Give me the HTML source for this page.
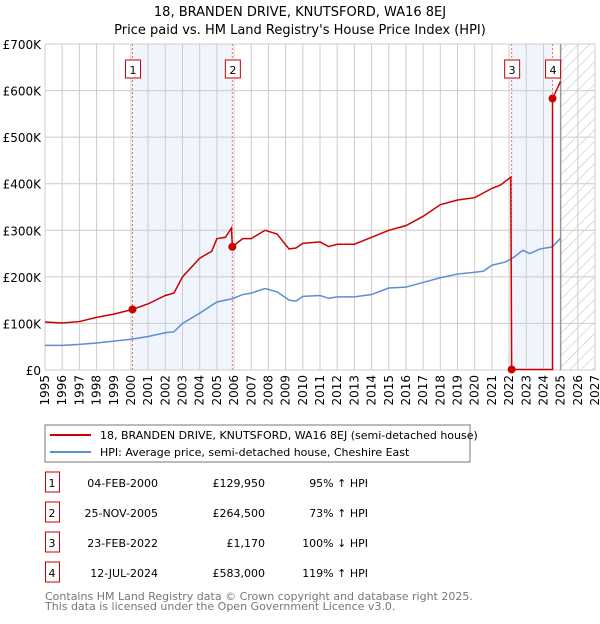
<!DOCTYPE html>
<html><head><meta charset="utf-8">
<style>
body{margin:0;background:#fff;font-family:"DejaVu Sans","Liberation Sans",sans-serif;}
svg text{font-family:"DejaVu Sans","Liberation Sans",sans-serif;}
</style></head>
<body>
<svg id="c" width="600" height="620" xmlns="http://www.w3.org/2000/svg">
<defs>
<pattern id="hatch" width="8" height="8" patternUnits="userSpaceOnUse" patternTransform="rotate(45)">
<line x1="0" y1="0" x2="0" y2="8" stroke="#bbb" stroke-width="1"/>
</pattern>
</defs>
<text x="300" y="16" text-anchor="middle" font-size="13">18, BRANDEN DRIVE, KNUTSFORD, WA16 8EJ</text>
<text x="300" y="34" text-anchor="middle" font-size="13">Price paid vs. HM Land Registry's House Price Index (HPI)</text>
<g id="plot"></g>
<rect x="45" y="425" width="425" height="37" fill="#fff" stroke="#777"/>
<line x1="50" y1="435" x2="91" y2="435" stroke="#cc0000" stroke-width="2"/>
<text x="100" y="439" font-size="11">18, BRANDEN DRIVE, KNUTSFORD, WA16 8EJ (semi-detached house)</text>
<line x1="50" y1="452" x2="91" y2="452" stroke="#5b8fd4" stroke-width="2"/>
<text x="100" y="456" font-size="11">HPI: Average price, semi-detached house, Cheshire East</text>
<g id="table" font-size="11"></g>
<text x="45" y="600" font-size="11" fill="#777">Contains HM Land Registry data © Crown copyright and database right 2025.</text>
<text x="45" y="610" font-size="11" fill="#777">This data is licensed under the Open Government Licence v3.0.</text>
</svg>
<script>
const hpiDates=[1995,1996,1997,1998,1999,2000,2001,2002,2002.5,2003,2004,2005,2005.9,2006.5,2007,2007.8,2008.5,2009.2,2009.6,2010,2011,2011.5,2012,2013,2014,2015,2016,2017,2018,2019,2020,2020.5,2021,2021.8,2022.2,2022.8,2023.2,2023.8,2024.5,2025];
const hpiValues=[53,53,55,58,62,66,72,80,82,100,122,146,153,162,165,175,168,150,148,158,160,154,157,157,162,176,178,188,198,206,210,212,225,232,240,257,250,260,264,283];
const redDates=[1995,1996,1997,1998,1999,2000.09,2001,2002,2002.5,2003,2004,2004.7,2005,2005.5,2005.85,2005.9,2006.5,2007,2007.8,2008.5,2009.2,2009.6,2010,2011,2011.5,2012,2013,2014,2015,2016,2017,2018,2019,2020,2021,2021.5,2022.1,2022.15,2024.53,2024.53,2025];
const redValues=[103,101,104,113,120,130,142,160,165,200,240,255,282,285,305,264.5,282,282,300,292,260,262,272,275,265,270,270,285,300,310,330,355,365,370,390,397,414,1.17,1.17,583,620];
const saleLabels=["1","2","3","4"];
const saleDates=[2000.09,2005.9,2022.15,2024.53];
const saleValues=[129.95,264.5,1.17,583];
const saleDateText=["04-FEB-2000","25-NOV-2005","23-FEB-2022","12-JUL-2024"];
const salePriceText=["£129,950","£264,500","£1,170","£583,000"];
const saleHpiText=["95% ↑ HPI","73% ↑ HPI","100% ↓ HPI","119% ↑ HPI"];
const yTicks=[0,100,200,300,400,500,600,700];
const yTickLabels=["£0","£100K","£200K","£300K","£400K","£500K","£600K","£700K"];
const xYears=[1995,1996,1997,1998,1999,2000,2001,2002,2003,2004,2005,2006,2007,2008,2009,2010,2011,2012,2013,2014,2015,2016,2017,2018,2019,2020,2021,2022,2023,2024,2025,2026,2027];

const X0=45,X1=595,Y0=370,Y1=44;
const x=t=>X0+(t-1995)*(X1-X0)/32;
const y=v=>Y0-v*(Y0-Y1)/700;
const NS="http://www.w3.org/2000/svg";
const plot=document.getElementById('plot');
function mk(tag,attrs,parent){const e=document.createElementNS(NS,tag);for(const k in attrs)e.setAttribute(k,attrs[k]);(parent||plot).appendChild(e);return e;}

// shaded ranges
let s=mk('rect',{x:x(saleDates[0]),y:Y1,width:x(saleDates[1])-x(saleDates[0]),height:Y0-Y1,fill:'#f0f4fd'});


s=mk('rect',{x:x(saleDates[2]),y:Y1,width:x(saleDates[3])-x(saleDates[2]),height:Y0-Y1,fill:'#f0f4fd'});


s=mk('rect',{x:x(2025),y:Y1,width:X1-x(2025),height:Y0-Y1,fill:'url(#hatch)'});



// grid
yTicks.forEach((v,i)=>{
  const l=mk('line',{x1:X0,x2:X1,y1:y(v),y2:y(v),stroke:'#ccc'});
  
  
  const t=mk('text',{x:X0-4,y:y(v)+5,'text-anchor':'end','font-size':'12'});
  t.textContent=yTickLabels[i];
  
  
});
xYears.forEach(yr=>{
  const l=mk('line',{x1:x(yr),x2:x(yr),y1:Y1,y2:Y0,stroke:'#ccc'});
  
  
  const t=mk('text',{x:0,y:0,'text-anchor':'end','font-size':'12',transform:`translate(${x(yr)+4},${Y0+5}) rotate(-90)`});
  t.textContent=yr;
  
  
});
s=mk('line',{x1:x(2025),x2:x(2025),y1:Y1,y2:Y0,stroke:'#999','stroke-width':1.5});



// sale markers vertical dashed
saleDates.forEach((d,i)=>{
  const l=mk('line',{x1:x(d),x2:x(d),y1:Y1,y2:Y0,stroke:'#f07070','stroke-dasharray':'2,2'});
  
  
  const r=mk('rect',{x:x(d)-7,y:60,width:15,height:18,fill:'#fff',stroke:'#cc0000'});
  
  
  const t=mk('text',{x:x(d)+0.5,y:74,'text-anchor':'middle','font-size':'11'});
  t.textContent=saleLabels[i];
  
  
});

// lines
const hp=mk('polyline',{points:hpiDates.map((d,i)=>x(d)+','+y(hpiValues[i])).join(' '),fill:'none',stroke:'#5b8fd4','stroke-width':1.5});


const rp=mk('polyline',{points:redDates.map((d,i)=>x(d)+','+y(redValues[i])).join(' '),fill:'none',stroke:'#cc0000','stroke-width':1.5});


saleDates.forEach((d,i)=>{
  const c=mk('circle',{cx:x(d),cy:y(saleValues[i]),r:4,fill:'#cc0000'});
  
  
});

// table
const tb=document.getElementById('table');
saleLabels.forEach((lab,i)=>{
  const ty=483+i*30;
  const r=mk('rect',{x:45.5,y:ty-11,width:14,height:20,fill:'#fff',stroke:'#cc0000'},tb);
  
  
  const cells=[[52,'middle',lab],[158,'end',saleDateText[i]],[265,'end',salePriceText[i]],[368,'end',saleHpiText[i]]];
  cells.forEach(c=>{
    const t=mk('text',{x:c[0],y:ty+4,'text-anchor':c[1]},tb);
    t.textContent=c[2];
    
    
  });
});
</script>
</body></html>
